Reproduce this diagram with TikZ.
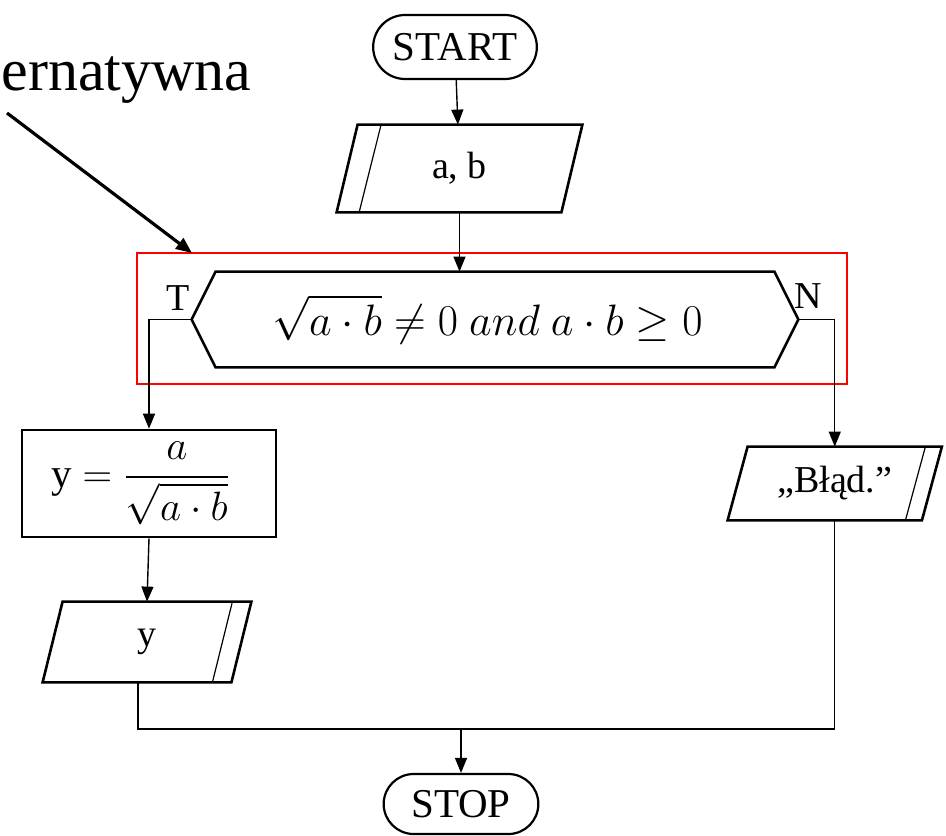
\RequirePackage{fix-cm}
\documentclass[tikz,border=0pt]{standalone}
\usepackage{amsmath}
\usepackage{amssymb}
\usepackage{fontspec}
\setmainfont{Liberation Serif}
\usetikzlibrary{shapes.misc,arrows.meta}

\tikzset{
  txt/.style={font=\fontsize{19pt}{23pt}\selectfont, inner sep=0pt},
  big/.style={font=\fontsize{22pt}{26pt}\selectfont},
  term/.style={rounded rectangle, draw, line width=1.1pt, font=\fontsize{20.5pt}{24pt}\selectfont, minimum height=32pt},
  contour/.style={line width=1.3pt},
  slash/.style={line width=0.6pt},
  link/.style={line width=0.7pt},
  flow/.style={line width=0.7pt, -{Triangle[length=7.5pt,width=6pt]}},
}

\begin{document}
\begin{tikzpicture}[x=0.5pt,y=-0.5pt]
\useasboundingbox (0,0) rectangle (946,835);

\draw (455,47) node[term, minimum width=88.5pt] (start) {START} ;

\draw (459.5,168.5) node[txt, minimum width=112pt, minimum height=43.5pt] (in) {a, b} ;
\draw[contour] ([xshift=5.25pt]in.north west) -- ([xshift=5.25pt]in.north east) -- ([xshift=-5.25pt]in.south east) -- ([xshift=-5.25pt]in.south west) -- cycle ;
\draw[slash] ([xshift=17pt]in.north west) -- ([xshift=6pt]in.south west) ;
\draw[flow] (start) to (in) ;

% warunek
\draw[red, line width=1.3pt] (137,253) rectangle (847,384) ;
\draw (495,319.5) node[txt, big, minimum width=303pt, minimum height=47.5pt] (cond) {\hspace*{-7.5pt}$\sqrt{a\cdot b}\neq 0\ and\ a\cdot b\geq 0$} ;
\draw[contour] (cond.west) -- ([xshift=12pt]cond.north west) -- ([xshift=-12pt]cond.north east) -- (cond.east) -- ([xshift=-12pt]cond.south east) -- ([xshift=12pt]cond.south west) -- cycle ;
\draw[flow] (in.south) to (in.south |- cond.north) ;
\draw (178,298) node[txt] (yes) {T} ;
\draw (808,296) node[txt] (no) {N} ;

\node[txt, font=\fontsize{30pt}{36pt}\selectfont, anchor=base west] (note) at (1,90) {ernatywna} ;
\coordinate (tail) at (7,113) ;
\coordinate (hit) at (192,253) ;
\draw[line width=1.6pt, -{Triangle[length=8pt,width=6.5pt]}] (tail) to (hit) ;

% T
\draw (149,483.5) node[txt, draw, line width=1.3pt, minimum width=127pt, minimum height=53.5pt, font=\fontsize{20.5pt}{24pt}\selectfont] (calc) {\hspace*{-8pt}y $=\dfrac{a}{\sqrt{a\cdot b}}$} ;
\draw[flow] (cond.west) -| (calc.north) ;

\draw (147,642) node[txt, minimum width=94pt, minimum height=40pt] (out) {y} ;
\draw[contour] ([xshift=5pt]out.north west) -- ([xshift=5pt]out.north east) -- ([xshift=-5pt]out.south east) -- ([xshift=-5pt]out.south west) -- cycle ;
\draw[slash] ([xshift=-4.5pt]out.north east) -- ([xshift=-14.5pt]out.south east) ;
\draw[flow] (calc.south) to (out.north) ;

% N
\draw (834.75,483.5) node[txt, minimum width=96.75pt, minimum height=36.5pt] (err) {„Błąd.”} ;
\draw[contour] ([xshift=5pt]err.north west) -- ([xshift=5pt]err.north east) -- ([xshift=-5pt]err.south east) -- ([xshift=-5pt]err.south west) -- cycle ;
\draw[slash] ([xshift=-3.25pt]err.north east) -- ([xshift=-13.25pt]err.south east) ;
\draw[flow] (cond.east) -| (err.north) ;

\draw (461,804) node[term, minimum width=84pt, minimum height=30pt] (stop) {STOP} ;
\coordinate (join) at (461,729) ;
\draw[link] ([xshift=-4.5pt]out.south) |- (join) ;
\draw[link] (err.south) |- (join) ;
\draw[flow] (join) to (stop.north) ;

\end{tikzpicture}
\end{document}
